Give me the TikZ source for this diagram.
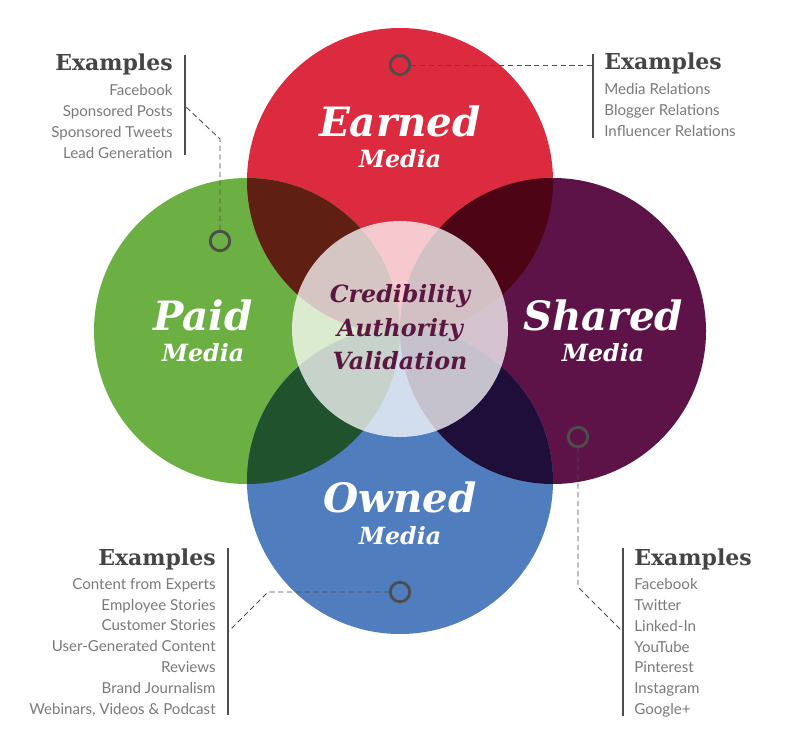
\documentclass[tikz,border=0pt]{standalone}
\usepackage{fontspec}
\setmainfont{Lato}
\newfontfamily\namefont{DejaVu Serif}
\usepackage{tikz}
\usetikzlibrary{positioning}
\definecolor{earnedred}{HTML}{DC2A3E}
\definecolor{paidgreen}{HTML}{6CB043}
\definecolor{sharedplum}{HTML}{5D1347}
\definecolor{ownedblue}{HTML}{4F7DBD}
\definecolor{earnedpaid}{HTML}{5F1F13}
\definecolor{earnedshared}{HTML}{4D0515}
\definecolor{paidowned}{HTML}{20532D}
\definecolor{sharedowned}{HTML}{1F0E3A}
\definecolor{coreplum}{HTML}{5A1840}
\definecolor{headgray}{HTML}{454545}
\definecolor{listgray}{HTML}{7A7A7A}
\definecolor{markgray}{HTML}{4D4D4D}
\tikzset{
  mediatitle/.style={font=\namefont\bfseries\itshape\fontsize{23}{23}\selectfont,
    text=white,anchor=base,inner sep=0pt},
  mediasub/.style={font=\namefont\bfseries\itshape\fontsize{13.5}{13.5}\selectfont,
    text=white,anchor=base,inner sep=0pt},
  coretext/.style={font=\namefont\bfseries\itshape\fontsize{13.5}{13.5}\selectfont,
    text=coreplum,anchor=base,inner sep=0pt},
  examplehead/.style={font=\namefont\bfseries\fontsize{12.5}{12.5}\selectfont,
    text=headgray,inner sep=0pt},
  examplelist/.style={font=\fontsize{8.6}{11.9}\selectfont,text=listgray,inner sep=0pt},
  markring/.style={circle,draw=markgray,line width=1.6pt,minimum size=0.39cm,inner sep=0pt},
  exbar/.style={draw=markgray,line width=1.1pt},
  leader/.style={draw=markgray,dash pattern=on 3pt off 2pt,line width=0.5pt}
}
\begin{document}
\begin{tikzpicture}[x=0.02cm,y=-0.02cm]
  \fill[white] (0,0) rectangle (800,753);
  \useasboundingbox (0,0) rectangle (800,753);
  % circle centres
  \coordinate (earnedc) at (400,181);
  \coordinate (paidc) at (247,331);
  \coordinate (sharedc) at (553,331);
  \coordinate (ownedc) at (400,481);
  \fill[earnedred] (earnedc) circle (153);
  \fill[paidgreen] (paidc) circle (153);
  \fill[sharedplum] (sharedc) circle (153);
  \fill[ownedblue] (ownedc) circle (153);
  % overlaps
  \begin{scope}
    \clip (earnedc) circle (153);
    \fill[earnedpaid] (paidc) circle (153);
    \fill[earnedshared] (sharedc) circle (153);
  \end{scope}
  \begin{scope}
    \clip (ownedc) circle (153);
    \fill[paidowned] (paidc) circle (153);
    \fill[sharedowned] (sharedc) circle (153);
  \end{scope}
  \fill[white,opacity=0.75] (400,329) circle (108);

  \node[mediatitle] (earned) at (400,137) {Earned};
  \node[mediasub] (earnedsub) at (400,168) {Media};
  \node[mediatitle] (paid) at (203,330) {Paid};
  \node[mediasub] (paidsub) at (203,361) {Media};
  \node[mediatitle] (shared) at (603,330) {Shared};
  \node[mediasub] (sharedsub) at (603,361) {Media};
  \node[mediatitle] (owned) at (400,512) {Owned};
  \node[mediasub] (ownedsub) at (400,544) {Media};

  \node[coretext] (credibility) at (400,302) {Credibility};
  \node[coretext] (authority) at (400,336) {Authority};
  \node[coretext] (validation) at (400,369) {Validation};

  % markers
  \node[markring] (earnedmark) at (400,65) {};
  \node[markring] (paidmark) at (220,241) {};
  \node[markring] (sharedmark) at (578,437) {};
  \node[markring] (ownedmark) at (400,592) {};

  % example lists
  \node[examplehead,anchor=base east] (paidhead) at (173,71) {Examples};
  \node[examplelist,align=right,below=4.5pt of paidhead.south east,anchor=north east] (paidlist)
    {Facebook\\Sponsored Posts\\Sponsored Tweets\\Lead Generation};
  \node[examplehead,anchor=base west] (earnedhead) at (604,70) {Examples};
  \node[examplelist,align=left,below=4.5pt of earnedhead.south west,anchor=north west] (earnedlist)
    {Media Relations\\Blogger Relations\\Influencer Relations};
  \node[examplehead,anchor=base east] (ownedhead) at (216,565) {Examples};
  \node[examplelist,align=right,below=4.5pt of ownedhead.south east,anchor=north east] (ownedlist)
    {Content from Experts\\Employee Stories\\Customer Stories\\User-Generated Content\\Reviews\\Brand Journalism\\Webinars, Videos \& Podcast};
  \node[examplehead,anchor=base west] (sharedhead) at (634,565) {Examples};
  \node[examplelist,align=left,below=4.5pt of sharedhead.south west,anchor=north west] (sharedlist)
    {Facebook\\Twitter\\Linked-In\\YouTube\\Pinterest\\Instagram\\Google+};

  % bars beside the lists
  \coordinate (paidbartop) at (185,55);
  \coordinate (paidbarbot) at (185,155);
  \coordinate (earnedbartop) at (593,54);
  \coordinate (earnedbarbot) at (593,138);
  \coordinate (ownedbartop) at (228,548);
  \coordinate (ownedbarbot) at (228,715);
  \coordinate (sharedbartop) at (623,548);
  \coordinate (sharedbarbot) at (623,716);
  \draw[exbar] (paidbartop) -- (paidbarbot);
  \draw[exbar] (earnedbartop) -- (earnedbarbot);
  \draw[exbar] (ownedbartop) -- (ownedbarbot);
  \draw[exbar] (sharedbartop) -- (sharedbarbot);

  % leaders
  \coordinate (paidbend) at (220,139);
  \coordinate (paidjoin) at (186,107);
  \coordinate (earnedjoin) at (593,65);
  \coordinate (sharedbend) at (578,587);
  \coordinate (sharedjoin) at (622,631);
  \coordinate (ownedbend) at (268,592);
  \coordinate (ownedjoin) at (229,631);
  \draw[leader] (paidmark.north) -- (paidbend) -- (paidjoin);
  \draw[leader] (earnedmark.east) -- (earnedjoin);
  \draw[leader] (sharedmark.south) -- (sharedbend) -- (sharedjoin);
  \draw[leader] (ownedmark.west) -- (ownedbend) -- (ownedjoin);
\end{tikzpicture}
\end{document}
